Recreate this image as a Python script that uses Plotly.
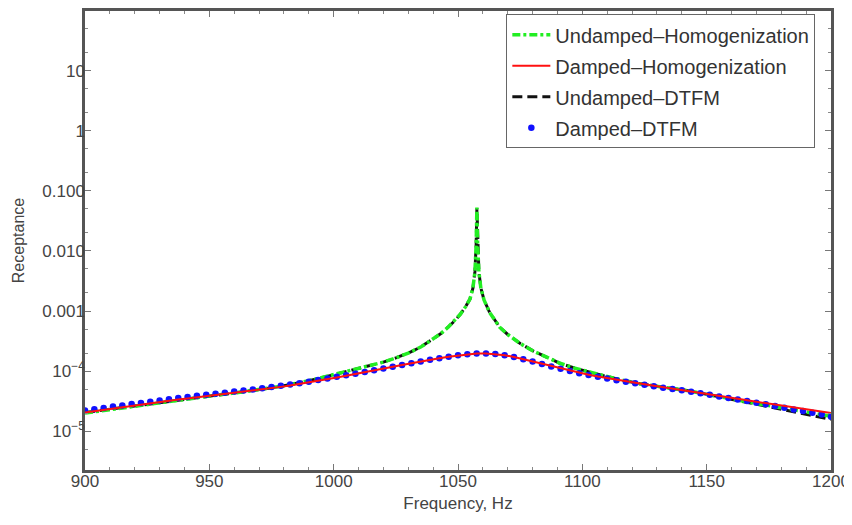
import plotly.graph_objects as go

# ---------------- data ----------------
freq_damped = [900, 903.75, 907.5, 911.25, 915, 918.75, 922.5, 926.25, 930, 933.75,
               937.5, 941.25, 945, 948.75, 952.5, 956.25, 960, 963.75, 967.5, 971.25,
               975, 978.75, 982.5, 986.25, 990, 993.75, 997.5, 1001.25, 1005, 1008.75,
               1012.5, 1016.25, 1020, 1023.75, 1027.5, 1031.25, 1035, 1038.75, 1042.5, 1046.25,
               1050, 1053.75, 1057.5, 1061.25, 1065, 1068.75, 1072.5, 1076.25, 1080, 1083.75,
               1087.5, 1091.25, 1095, 1098.75, 1102.5, 1106.25, 1110, 1113.75, 1117.5, 1121.25,
               1125, 1128.75, 1132.5, 1136.25, 1140, 1143.75, 1147.5, 1151.25, 1155, 1158.75,
               1162.5, 1166.25, 1170, 1173.75, 1177.5, 1181.25, 1185, 1188.75, 1192.5, 1196.25,
               1200]

damped_homogenization = [
    2.04e-5, 2.15e-5, 2.26e-5, 2.39e-5, 2.51e-5, 2.65e-5, 2.77e-5, 2.91e-5, 3.05e-5, 3.21e-5,
    3.36e-5, 3.51e-5, 3.66e-5, 3.82e-5, 3.98e-5, 4.15e-5, 4.33e-5, 4.52e-5, 4.73e-5, 4.95e-5,
    5.20e-5, 5.47e-5, 5.75e-5, 6.08e-5, 6.46e-5, 6.87e-5, 7.33e-5, 7.82e-5, 8.36e-5, 8.91e-5,
    9.55e-5, 1.02e-4, 1.10e-4, 1.17e-4, 1.26e-4, 1.35e-4, 1.45e-4, 1.54e-4, 1.64e-4, 1.74e-4,
    1.83e-4, 1.91e-4, 1.97e-4, 1.97e-4, 1.93e-4, 1.84e-4, 1.72e-4, 1.58e-4, 1.45e-4, 1.32e-4,
    1.20e-4, 1.10e-4, 1.01e-4, 9.33e-5, 8.71e-5, 8.13e-5, 7.62e-5, 7.16e-5, 6.76e-5, 6.38e-5,
    6.03e-5, 5.69e-5, 5.40e-5, 5.13e-5, 4.88e-5, 4.62e-5, 4.37e-5, 4.12e-5, 3.89e-5, 3.67e-5,
    3.47e-5, 3.27e-5, 3.09e-5, 2.92e-5, 2.75e-5, 2.60e-5, 2.45e-5, 2.34e-5, 2.21e-5, 2.09e-5,
    2.00e-5]

damped_dtfm = [
    2.22e-5, 2.33e-5, 2.44e-5, 2.57e-5, 2.69e-5, 2.83e-5, 2.96e-5, 3.10e-5, 3.25e-5, 3.41e-5,
    3.56e-5, 3.72e-5, 3.88e-5, 4.04e-5, 4.21e-5, 4.38e-5, 4.56e-5, 4.75e-5, 4.96e-5, 5.18e-5,
    5.43e-5, 5.70e-5, 5.98e-5, 6.31e-5, 6.68e-5, 7.09e-5, 7.55e-5, 8.03e-5, 8.55e-5, 9.08e-5,
    9.70e-5, 1.03e-4, 1.11e-4, 1.18e-4, 1.26e-4, 1.35e-4, 1.45e-4, 1.54e-4, 1.64e-4, 1.74e-4,
    1.83e-4, 1.91e-4, 1.97e-4, 1.97e-4, 1.92e-4, 1.83e-4, 1.71e-4, 1.57e-4, 1.44e-4, 1.31e-4,
    1.19e-4, 1.09e-4, 1.00e-4, 9.25e-5, 8.62e-5, 8.04e-5, 7.53e-5, 7.07e-5, 6.67e-5, 6.29e-5,
    5.94e-5, 5.60e-5, 5.31e-5, 5.04e-5, 4.79e-5, 4.53e-5, 4.28e-5, 4.03e-5, 3.80e-5, 3.58e-5,
    3.37e-5, 3.17e-5, 2.98e-5, 2.80e-5, 2.62e-5, 2.46e-5, 2.30e-5, 2.17e-5, 2.03e-5, 1.89e-5,
    1.74e-5]

freq_undamped = [900, 910, 920, 930, 940, 950, 960, 970, 980, 990,
                 1000, 1005, 1010, 1015, 1020, 1025, 1030, 1035, 1040, 1043,
                 1046, 1049, 1051, 1053, 1054.8, 1056, 1056.8, 1057.3, 1057.6, 1057.9,
                 1058.4, 1059.2, 1060.5, 1062.8, 1066.8, 1070, 1075, 1080, 1085, 1091,
                 1097, 1103, 1110, 1116, 1123, 1133, 1143, 1153, 1163, 1173,
                 1183, 1192, 1200]

undamped_homogenization = [
    2.00e-5, 2.29e-5, 2.63e-5, 3.02e-5, 3.43e-5, 3.85e-5, 4.32e-5, 4.90e-5, 5.69e-5, 6.92e-5,
    8.71e-5, 9.77e-5, 1.10e-4, 1.23e-4, 1.41e-4, 1.66e-4, 2.00e-4, 2.51e-4, 3.39e-4, 4.17e-4,
    5.37e-4, 7.08e-4, 8.91e-4, 1.17e-3, 1.58e-3, 2.40e-3, 4.47e-3, 1.26e-2, 5.25e-2, 1.26e-2,
    4.47e-3, 2.40e-3, 1.51e-3, 9.33e-4, 5.37e-4, 4.07e-4, 2.88e-4, 2.19e-4, 1.74e-4, 1.35e-4,
    1.12e-4, 9.55e-5, 8.13e-5, 7.08e-5, 6.17e-5, 5.37e-5, 4.68e-5, 3.89e-5, 3.24e-5, 2.75e-5,
    2.34e-5, 2.04e-5, 1.78e-5]

undamped_dtfm = [
    2.05e-5, 2.32e-5, 2.65e-5, 3.03e-5, 3.44e-5, 3.86e-5, 4.33e-5, 4.91e-5, 5.70e-5, 6.93e-5,
    8.72e-5, 9.78e-5, 1.10e-4, 1.23e-4, 1.41e-4, 1.66e-4, 2.00e-4, 2.51e-4, 3.39e-4, 4.17e-4,
    5.37e-4, 7.08e-4, 8.91e-4, 1.17e-3, 1.58e-3, 2.40e-3, 4.47e-3, 1.26e-2, 5.10e-2, 1.26e-2,
    4.47e-3, 2.40e-3, 1.51e-3, 9.33e-4, 5.37e-4, 4.07e-4, 2.88e-4, 2.19e-4, 1.74e-4, 1.35e-4,
    1.12e-4, 9.55e-5, 8.13e-5, 7.08e-5, 6.17e-5, 5.37e-5, 4.68e-5, 3.89e-5, 3.22e-5, 2.70e-5,
    2.19e-5, 1.86e-5, 1.58e-5]

x_tick_vals = [900, 950, 1000, 1050, 1100, 1150, 1200]
x_tick_text = ["900", "950", "1000", "1050", "1100", "1150", "1200"]
y_tick_vals = [1e-5, 1e-4, 1e-3, 1e-2, 1e-1, 1, 10]
y_tick_text = ["10<sup>−5</sup>", "10<sup>−4</sup>", "0.001", "0.010", "0.100", "1", "10"]

# ---------------- figure ----------------
FONT = "Liberation Sans, Arial, Helvetica, sans-serif"
fig = go.Figure()

fig.add_trace(go.Scatter(
    x=freq_undamped, y=undamped_dtfm, mode="lines", name="Undamped–DTFM",
    line=dict(color="#111111", width=3, dash="10px,5px"),
    legendrank=3, legendgroup="g3"))
fig.add_trace(go.Scatter(
    x=freq_undamped, y=undamped_homogenization, mode="lines", name="Undamped–Homogenization",
    line=dict(color="#22ee22", width=3.5, dash="8px,3px,3px,3px"),
    legendrank=1, legendgroup="g1"))
fig.add_trace(go.Scatter(
    x=freq_damped, y=damped_dtfm, mode="markers", name="Damped–DTFM",
    marker=dict(color="#1010ff", size=6.5, line=dict(width=0)),
    legendrank=4, legendgroup="g4"))
fig.add_trace(go.Scatter(
    x=freq_damped, y=damped_homogenization, mode="lines", name="Damped–Homogenization",
    line=dict(color="#ff1010", width=2),
    legendrank=2, legendgroup="g2"))

axis_common = dict(
    showline=True, linecolor="#555555", linewidth=2.5, mirror="allticks",
    ticks="inside", tickcolor="#777777", ticklen=6, tickwidth=1,
    showgrid=False, zeroline=False, ticklabeloverflow="allow",
    tickfont=dict(family=FONT, size=17, color="#444444"),
)

fig.update_xaxes(
    range=[900, 1200], tickvals=x_tick_vals, ticktext=x_tick_text,
    minor=dict(ticks="inside", ticklen=3, tickcolor="#888888", dtick=10, showgrid=False),
    ticklabelstandoff=-6,
    title=dict(text="Frequency, Hz", font=dict(family=FONT, size=17, color="#444444"), standoff=9),
    **axis_common)
fig.update_yaxes(
    type="log", range=[-5.645, 1.991], tickvals=y_tick_vals, ticktext=y_tick_text,
    minor=dict(ticks="inside", ticklen=3, tickcolor="#888888", showgrid=False),
    ticklabelstandoff=-6,
    title=dict(text="Receptance", font=dict(family=FONT, size=16, color="#444444"), standoff=14),
    **axis_common)

# the page body adds an 8 px margin, so the figure is sized/offset to compensate
fig.update_layout(
    width=844, height=505,
    margin=dict(l=77, r=21, t=0, b=43),
    plot_bgcolor="white", paper_bgcolor="white",
    font=dict(family=FONT, color="#444444"),
    legend=dict(
        x=0.979, y=0.993, xanchor="right", yanchor="top",
        bgcolor="white", bordercolor="#666666", borderwidth=1,
        font=dict(family=FONT, size=20, color="#333333"),
        tracegroupgap=2, traceorder="grouped", itemwidth=38,
    ),
    showlegend=True,
)

fig.write_html("out.html")
